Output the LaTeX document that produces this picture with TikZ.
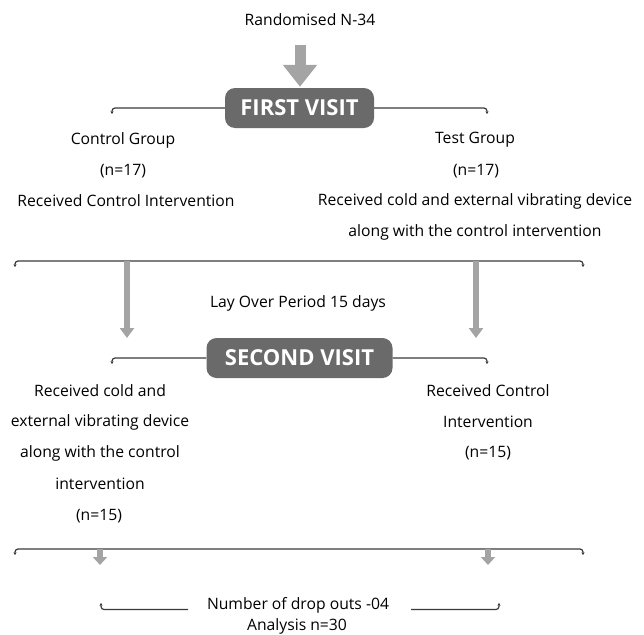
\documentclass[tikz,border=0pt]{standalone}
\usepackage{fontspec}
\setmainfont{Open Sans}
\usetikzlibrary{arrows.meta,backgrounds}
\definecolor{boxgray}{HTML}{6A6A6A}
\definecolor{arrgray}{HTML}{A4A4A4}
\definecolor{linegray}{HTML}{3A3A3A}
\tikzset{
  txt/.style={inner sep=0pt, font=\fontsize{15.7}{18}\selectfont, text=black, anchor=center},
  visitbox/.style={draw=none, fill=boxgray, rounded corners=10pt, text=white,
     font=\fontsize{22}{24}\bfseries\selectfont, minimum height=40pt, inner sep=0pt},
  brk/.style={draw=linegray, line width=1.2pt, rounded corners=3pt},
  brktip/.style={-{Stealth[length=2.6pt,width=3.2pt]}},
  brktips/.style={{Stealth[length=2.6pt,width=3.2pt]}-{Stealth[length=2.6pt,width=3.2pt]}},
  bigarrow/.style={draw=arrgray, line width=11pt, -{Triangle[width=33pt,length=22pt]}},
  midarrow/.style={draw=arrgray, line width=5.5pt, -{Triangle[width=14pt,length=10pt]}},
  smallarrow/.style={draw=arrgray, line width=5.5pt, -{Triangle[width=14pt,length=8pt]}},
}
\begin{document}
\begin{tikzpicture}[x=1pt,y=-1pt]
\useasboundingbox (0,0) rectangle (644,634);

% top
\node[txt] (rand) at (310,20) {Randomised N-34};
\node[visitbox, minimum width=149pt] (fv) at (299.5,108) {FIRST VISIT};
\coordinate (a0) at (300,45);
\draw[bigarrow] (a0) -- ([yshift=1pt]fv.north -| a0);

% first bracket
\coordinate (b1l) at (112,114);
\coordinate (b1r) at (487,114);
\begin{scope}[on background layer]
\draw[brk, brktip] (fv.west) -| (b1l);
\draw[brk, brktip] (fv.east) -| (b1r);
\end{scope}

% first visit texts
\node[txt] (cg)  at (123,140) {Control Group};
\node[txt] (cgn) at (123,171) {(n=17)};
\node[txt] (cgi) at (126,201) {Received Control Intervention};
\node[txt] (tg)  at (475,140) {Test Group};
\node[txt] (tgn) at (476,171) {(n=17)};
\node[txt] (tgi) at (475,201) {Received cold and external vibrating device};
\node[txt] (tgj) at (475,232) {along with the control intervention};

% second bracket
\coordinate (b2l) at (15,267);
\coordinate (b2m) at (300,261);
\coordinate (b2r) at (583,267);
\draw[brk, brktips] (b2l) |- (b2m) -| (b2r);

% lay over arrows
\coordinate (l1s) at (127,261);
\coordinate (l1e) at (127,338);
\coordinate (l2s) at (476,261);
\coordinate (l2e) at (476,338);
\draw[midarrow] (l1s) -- (l1e);
\draw[midarrow] (l2s) -- (l2e);
\node[txt] (lay) at (298,303) {Lay Over Period 15 days};

% second visit
\node[visitbox, minimum width=186pt] (sv) at (299.5,358) {SECOND VISIT};
\coordinate (b3l) at (112,364);
\coordinate (b3r) at (487,364);
\begin{scope}[on background layer]
\draw[brk, brktip] (sv.west) -| (b3l);
\draw[brk, brktip] (sv.east) -| (b3r);
\end{scope}

% second visit texts
\node[txt] (s1) at (100,391) {Received cold and};
\node[txt] (s2) at (100,422) {external vibrating device};
\node[txt] (s3) at (100,453) {along with the control};
\node[txt] (s4) at (100,484) {intervention};
\node[txt] (s5) at (99,516) {(n=15)};
\node[txt] (r1) at (488,391) {Received Control};
\node[txt] (r2) at (488,422) {Intervention};
\node[txt] (r3) at (488,453) {(n=15)};

% third bracket
\coordinate (b4l) at (15,555);
\coordinate (b4m) at (300,549);
\coordinate (b4r) at (583,555);
\draw[brk, brktips] (b4l) |- (b4m) -| (b4r);

% small arrows
\coordinate (d1s) at (100,549);
\coordinate (d1e) at (100,565);
\coordinate (d2s) at (488,549);
\coordinate (d2e) at (488,565);
\draw[smallarrow] (d1s) -- (d1e);
\draw[smallarrow] (d2s) -- (d2e);

% bottom
\node[txt] (drop) at (298,605) {Number of drop outs -04};
\node[txt] (ana) at (297,626) {Analysis n=30};
\coordinate (e1l) at (101,603);
\coordinate (e1r) at (188,609.5);
\coordinate (e2l) at (411,609.5);
\coordinate (e2r) at (499,603);
\draw[brk, brktip] (e1r) -| (e1l);
\draw[brk, brktip] (e2l) -| (e2r);
\end{tikzpicture}
\end{document}
